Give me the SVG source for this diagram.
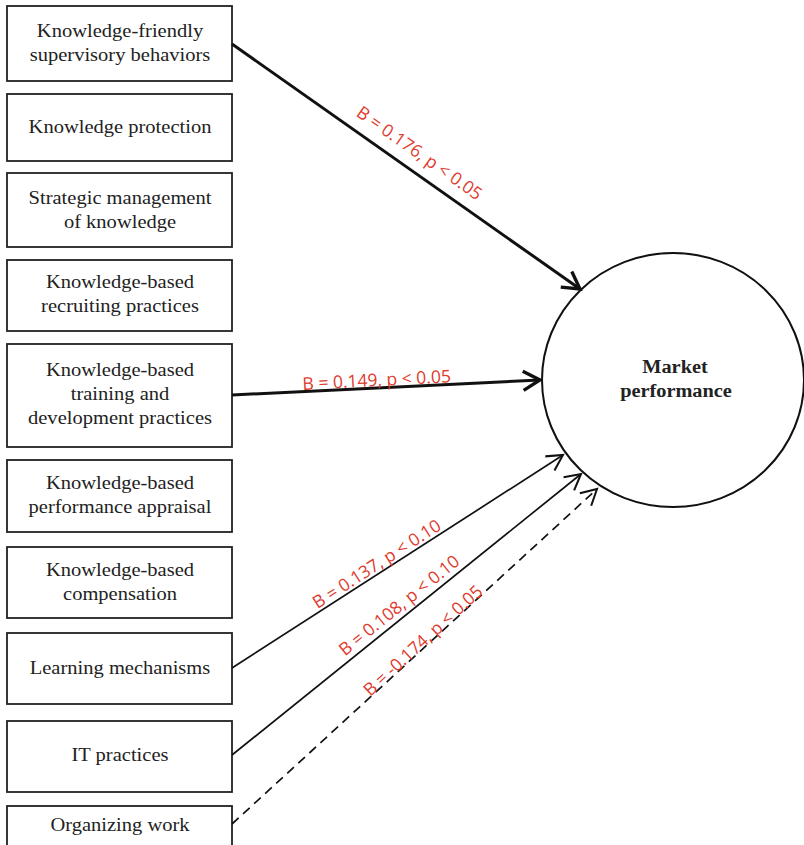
<svg xmlns="http://www.w3.org/2000/svg" width="804" height="845" viewBox="0 0 804 845">
<style>
.box{fill:#fff;stroke:#222;stroke-width:1.8}
.bt{font-family:"Liberation Serif","Times New Roman",serif;font-size:18px;fill:#222;text-anchor:middle}
.mt{font-family:"Liberation Serif","Times New Roman",serif;font-size:18px;font-weight:bold;fill:#222;text-anchor:middle}
.lbl{font-family:"Open Sans","DejaVu Sans",sans-serif;font-size:17.5px;fill:#e03a2e;text-anchor:middle}
.thick{stroke:#111;stroke-width:3;fill:none}
.thin{stroke:#111;stroke-width:1.7;fill:none}
.dash{stroke:#111;stroke-width:1.7;fill:none;stroke-dasharray:9,6}
</style>
<defs>
<marker id="ah1" markerUnits="userSpaceOnUse" markerWidth="24" markerHeight="24" viewBox="-16 -10 20 20" refX="0" refY="0" orient="auto">
<path d="M-14,-8 L0,0 L-14,8" fill="none" stroke="#111" stroke-width="2.8"/>
</marker>
<marker id="ah2" markerUnits="userSpaceOnUse" markerWidth="24" markerHeight="24" viewBox="-16 -10 20 20" refX="0" refY="0" orient="auto">
<path d="M-13,-7 L0,0 L-13,7" fill="none" stroke="#111" stroke-width="1.7"/>
</marker>
</defs>
<g id="n1"><rect class="box" x="7" y="6" width="225" height="75"/><text class="bt" transform="translate(120,37) scale(1.14,1)">Knowledge-friendly</text><text class="bt" transform="translate(120,61) scale(1.14,1)">supervisory behaviors</text></g>
<g id="n2"><rect class="box" x="7" y="94" width="225" height="67"/><text class="bt" transform="translate(120,133) scale(1.14,1)">Knowledge protection</text></g>
<g id="n3"><rect class="box" x="7" y="173" width="225" height="74"/><text class="bt" transform="translate(120,204) scale(1.14,1)">Strategic management</text><text class="bt" transform="translate(120,228) scale(1.14,1)">of knowledge</text></g>
<g id="n4"><rect class="box" x="7" y="260" width="225" height="71"/><text class="bt" transform="translate(120,288) scale(1.14,1)">Knowledge-based</text><text class="bt" transform="translate(120,312) scale(1.14,1)">recruiting practices</text></g>
<g id="n5"><rect class="box" x="7" y="344" width="225" height="103"/><text class="bt" transform="translate(120,376) scale(1.14,1)">Knowledge-based</text><text class="bt" transform="translate(120,400) scale(1.14,1)">training and</text><text class="bt" transform="translate(120,424) scale(1.14,1)">development practices</text></g>
<g id="n6"><rect class="box" x="7" y="460" width="225" height="72"/><text class="bt" transform="translate(120,489) scale(1.14,1)">Knowledge-based</text><text class="bt" transform="translate(120,513) scale(1.14,1)">performance appraisal</text></g>
<g id="n7"><rect class="box" x="7" y="547" width="225" height="71"/><text class="bt" transform="translate(120,576) scale(1.14,1)">Knowledge-based</text><text class="bt" transform="translate(120,600) scale(1.14,1)">compensation</text></g>
<g id="n8"><rect class="box" x="7" y="633" width="225" height="71"/><text class="bt" transform="translate(120,674) scale(1.14,1)">Learning mechanisms</text></g>
<g id="n9"><rect class="box" x="7" y="721" width="225" height="71"/><text class="bt" transform="translate(120,761) scale(1.14,1)">IT practices</text></g>
<g id="n10"><rect class="box" x="7" y="806" width="225" height="45"/><text class="bt" transform="translate(120,831) scale(1.14,1)">Organizing work</text></g>
<g id="target"><ellipse cx="673" cy="380" rx="131" ry="127" fill="#fff" stroke="#111" stroke-width="2"/>
<text class="mt" transform="translate(675,373) scale(1.13,1)">Market</text>
<text class="mt" transform="translate(676,397) scale(1.13,1)">performance</text></g>
<g id="connectors">
<line class="thick" x1="232" y1="44" x2="580" y2="289" marker-end="url(#ah1)"/>
<line class="thick" x1="232" y1="395" x2="540" y2="380" marker-end="url(#ah1)"/>
<line class="thin" x1="232" y1="668" x2="563" y2="455" marker-end="url(#ah2)"/>
<line class="thin" x1="232" y1="755" x2="581" y2="474" marker-end="url(#ah2)"/>
<line class="dash" x1="232" y1="824" x2="597" y2="489" marker-end="url(#ah2)"/>
<text class="lbl" transform="translate(416,158) rotate(35.1)">B = 0.176, p &lt; 0.05</text>
<text class="lbl" transform="translate(377,386) rotate(-3)">B = 0.149, p &lt; 0.05</text>
<text class="lbl" transform="translate(380,569) rotate(-32.8)">B = 0.137, p &lt; 0.10</text>
<text class="lbl" transform="translate(403,610) rotate(-38.8)">B = 0.108, p &lt; 0.10</text>
<text class="lbl" transform="translate(427,645) rotate(-42.5)">B = -0.174, p &lt; 0.05</text>
</g>
</svg>
